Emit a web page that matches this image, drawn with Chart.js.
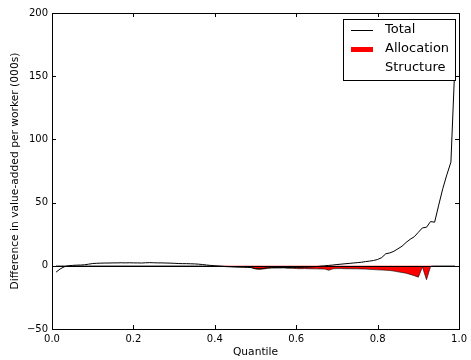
<!DOCTYPE html>
<html>
<head>
<meta charset="utf-8">
<script src="https://cdn.jsdelivr.net/npm/chart.js@4"></script>
<style>
  html, body { margin: 0; padding: 0; background: #fff; }
  #wrap { width: 471px; height: 360px; }
</style>
</head>
<body>
<div id="wrap"><canvas id="chart"></canvas></div>
<script>
// Quantiles (x positions)
const quantiles = [
  0.01,0.02,0.03,0.04,0.05,0.06,0.07,0.08,0.09,0.10,
  0.11,0.12,0.13,0.14,0.15,0.16,0.17,0.18,0.19,0.20,
  0.21,0.22,0.23,0.24,0.25,0.26,0.27,0.28,0.29,0.30,
  0.31,0.32,0.33,0.34,0.35,0.36,0.37,0.38,0.39,0.40,
  0.41,0.42,0.43,0.44,0.45,0.46,0.47,0.48,0.49,0.50,
  0.51,0.52,0.53,0.54,0.55,0.56,0.57,0.58,0.59,0.60,
  0.61,0.62,0.63,0.64,0.65,0.66,0.67,0.68,0.69,0.70,
  0.71,0.72,0.73,0.74,0.75,0.76,0.77,0.78,0.79,0.80,
  0.81,0.82,0.83,0.84,0.85,0.86,0.87,0.88,0.89,0.90,
  0.91,0.92,0.93,0.94,0.95,0.96,0.97,0.98,0.99
];

// Total difference
const total = [
  -5,-2.5,-0.8,0,0.3,0.5,0.6,0.8,1.3,1.8,
  2.0,2.1,2.2,2.2,2.3,2.3,2.4,2.3,2.4,2.3,
  2.3,2.2,2.4,2.5,2.4,2.3,2.3,2.2,2.1,2.0,
  1.8,1.7,1.7,1.6,1.5,1.3,1.0,0.6,0.3,0.0,
  -0.3,-0.5,-0.7,-0.8,-0.9,-1.0,-1.1,-1.2,-1.4,-2.2,
  -2.4,-2.0,-1.6,-1.4,-1.4,-1.3,-1.3,-1.4,-1.3,-1.3,
  -1.2,-1.1,-1.0,-0.8,-0.6,-0.3,0.0,0.3,0.6,1.0,
  1.3,1.6,1.9,2.2,2.5,2.8,3.3,3.7,4.2,5.0,
  6.5,9.5,10.2,11.5,13.5,15.5,18.5,21,23,26.5,
  30,30.5,35,34.5,48,61,72,82,161
];

// Allocation component
const allocation = [
  0,0,0,0,0,0,0,0,0,0,
  0,0,0,0,0,0,0,0,0,0,
  0,0,0,0,0,0,0,0,0,0,
  0,0,0,0,0,0,0,0,0,0,
  -0.2,-0.3,-0.5,-0.6,-0.8,-1.0,-1.0,-1.2,-1.5,-2.5,
  -2.8,-2.5,-2.0,-1.8,-1.8,-1.8,-1.7,-2.0,-2.0,-2.2,
  -2.3,-2.2,-2.3,-2.4,-2.4,-2.5,-2.6,-3.5,-2.4,-2.2,
  -2.2,-2.3,-2.3,-2.4,-2.4,-2.5,-2.6,-2.8,-3.0,-3.2,
  -3.3,-3.5,-3.7,-4.2,-4.8,-5.3,-5.9,-6.8,-7.8,-9.0,
  -1.0,-11,-0.5,0,0,0,0,0,0
];

// Axis ticks
const xTicks = [0, 0.2, 0.4, 0.6, 0.8, 1.0];
const yTicks = [-50, 0, 50, 100, 150, 200];

const FONT = "'DejaVu Sans', sans-serif";

function pts(ys){
  return quantiles.map((q, i) => ({x: q, y: ys[i]}));
}

// Frame, inward ticks and zero line (matplotlib classic look)
const framePlugin = {
  id: "frame",
  afterDatasetsDraw(chart){
    const {ctx, chartArea: a, scales} = chart;
    const xs = scales.x, ys = scales.y;
    ctx.save();
    ctx.strokeStyle = "#000";
    ctx.lineWidth = 1;
    // zero line
    const y0 = Math.round(ys.getPixelForValue(0)) + 0.5;
    ctx.beginPath();
    ctx.moveTo(a.left, y0);
    ctx.lineTo(a.right, y0);
    ctx.stroke();
    // box
    ctx.strokeRect(Math.round(a.left) + 0.5, Math.round(a.top) + 0.5,
      Math.round(a.right - a.left), Math.round(a.bottom - a.top));
    // ticks
    ctx.beginPath();
    xTicks.forEach(v => {
      const px = Math.round(xs.getPixelForValue(v)) + 0.5;
      ctx.moveTo(px, a.bottom); ctx.lineTo(px, a.bottom - 4);
      ctx.moveTo(px, a.top); ctx.lineTo(px, a.top + 4);
    });
    yTicks.forEach(v => {
      const py = Math.round(ys.getPixelForValue(v)) + 0.5;
      ctx.moveTo(a.left, py); ctx.lineTo(a.left + 4, py);
      ctx.moveTo(a.right, py); ctx.lineTo(a.right - 4, py);
    });
    ctx.stroke();
    ctx.restore();
  }
};

// Legend box, top right
const legendPlugin = {
  id: "boxLegend",
  afterDraw(chart){
    const {ctx} = chart;
    const x = 343.5, y = 19.5, w = 112, h = 61;
    ctx.save();
    ctx.fillStyle = "#fff";
    ctx.fillRect(x, y, w, h);
    ctx.strokeStyle = "#000";
    ctx.lineWidth = 1;
    ctx.strokeRect(x, y, w, h);
    ctx.font = "13px " + FONT;
    ctx.textBaseline = "middle";
    ctx.textAlign = "left";
    chart.data.datasets.forEach((ds, i) => {
      const ry = 30 + i * 19;
      ctx.strokeStyle = ds.legendColor;
      ctx.lineWidth = ds.legendWidth;
      if (ds.legendWidth > 0) {
        const off = ds.legendWidth % 2 ? 0.5 : 0;
        ctx.beginPath();
        ctx.moveTo(351, ry + off);
        ctx.lineTo(373, ry + off);
        ctx.stroke();
      }
      ctx.fillStyle = "#000";
      ctx.fillText(ds.label, 385, ry);
    });
    ctx.restore();
  }
};

new Chart(document.getElementById("chart"), {
  type: "line",
  data: {
    datasets: [
      {
        label: "Total",
        data: pts(total),
        borderColor: "#000",
        borderWidth: 1,
        pointRadius: 0,
        fill: false,
        order: 0,
        legendColor: "#000",
        legendWidth: 1
      },
      {
        label: "Allocation",
        data: pts(allocation),
        borderColor: "#000",
        borderWidth: 0.6,
        backgroundColor: "#ff0000",
        pointRadius: 0,
        fill: "origin",
        order: 1,
        legendColor: "#ff0000",
        legendWidth: 5
      },
      {
        label: "Structure",
        data: [],
        borderColor: "#fff",
        pointRadius: 0,
        order: 2,
        legendColor: "#fff",
        legendWidth: 0
      }
    ]
  },
  options: {
    responsive: true,
    maintainAspectRatio: false,
    animation: false,
    layout: { padding: { top: 13, right: 10, left: 0, bottom: 0 } },
    plugins: { legend: { display: false }, tooltip: { enabled: false } },
    scales: {
      x: {
        type: "linear",
        min: 0, max: 1,
        afterBuildTicks: s => { s.ticks = xTicks.map(v => ({value: v})); },
        afterFit: s => { s.height = 31; },
        grid: { display: false, drawTicks: false },
        border: { display: false },
        ticks: {
          padding: 4,
          color: "#000",
          font: { family: FONT, size: 10 },
          callback: v => v.toFixed(1)
        },
        title: {
          display: true,
          text: "Quantile",
          color: "#000",
          font: { family: FONT, size: 10.7 },
          padding: { top: 0, bottom: 1 }
        }
      },
      y: {
        min: -50, max: 200,
        afterBuildTicks: s => { s.ticks = yTicks.map(v => ({value: v})); },
        afterFit: s => { s.width = 52; },
        grid: { display: false, drawTicks: false },
        border: { display: false },
        ticks: {
          padding: 4,
          color: "#000",
          font: { family: FONT, size: 10 },
          callback: v => v < 0 ? "\u2212" + Math.abs(v) : String(v)
        },
        title: {
          display: true,
          text: "Difference in value-added per worker (000s)",
          color: "#000",
          font: { family: FONT, size: 10.7 },
          padding: { top: 9, bottom: 0 }
        }
      }
    }
  },
  plugins: [framePlugin, legendPlugin]
});
</script>
</body>
</html>
